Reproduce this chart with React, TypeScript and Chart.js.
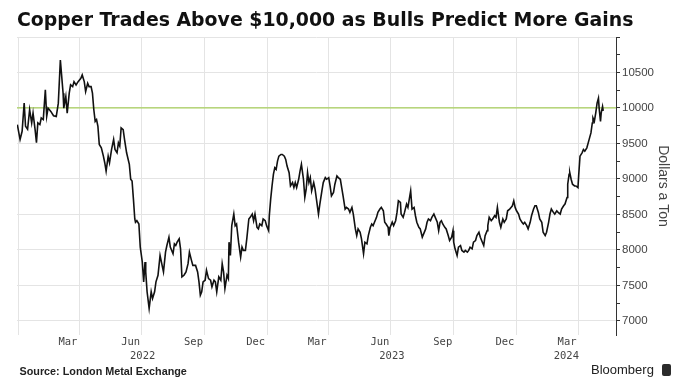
import React, { useEffect, useRef } from 'react';
import { Chart, registerables } from 'chart.js';

Chart.register(...registerables);

const TITLE = 'Copper Trades Above $10,000 as Bulls Predict More Gains';
const Y_TITLE = 'Dollars a Ton';
const SOURCE = 'Source: London Metal Exchange';
const BRAND = 'Bloomberg';

// [days since 2022-01-01, LME copper price in $/t]
const series2022: [number, number][] = [
  [-1, 9765], [3, 9555], [6, 9671], [9, 10068], [11, 9741], [14, 9700], [17, 9975], [20, 9789],
  [22, 9928], [25, 9695], [27, 9509], [29, 9789], [32, 9765], [34, 9858], [37, 9836], [40, 10255],
  [42, 9881], [44, 9998], [48, 9951], [52, 9891], [56, 9881], [59, 10068], [62, 10675], [64, 10441],
  [66, 10208], [67, 9998], [70, 10161], [72, 9928], [75, 10208], [77, 10325], [80, 10300], [82, 10371],
  [85, 10325], [88, 10371], [92, 10418], [94, 10465], [97, 10371], [99, 10231], [102, 10348], [104, 10301],
  [107, 10301], [109, 10208], [111, 9975], [113, 9811], [115, 9836], [117, 9741], [119, 9485], [122, 9438],
  [125, 9321], [127, 9228], [129, 9111], [132, 9321], [134, 9228], [137, 9415], [140, 9555], [142, 9415],
  [145, 9368], [147, 9508], [149, 9462], [151, 9719], [154, 9695], [156, 9555], [159, 9368], [163, 9205],
  [165, 8995], [167, 8970], [169, 8715], [171, 8435], [172, 8389], [174, 8412], [177, 8365], [179, 8039],
  [182, 7829], [184, 7548], [186, 7829], [187, 7689], [189, 7409], [192, 7175], [195, 7409], [197, 7315],
  [200, 7409], [202, 7549], [205, 7641], [208, 7921], [211, 7781], [213, 7689], [216, 7968], [218, 8061],
  [221, 8178], [223, 8039], [227, 7945], [229, 8085], [231, 8061], [233, 8108], [236, 8155], [238, 8015],
  [240, 7619], [243, 7642], [246, 7689], [249, 7805], [251, 7968], [254, 7852], [256, 7781], [260, 7781],
  [263, 7689], [265, 7549], [267, 7361], [269, 7409], [271, 7549], [274, 7572], [276, 7712], [279, 7595],
  [282, 7572], [284, 7479], [287, 7572], [289, 7549], [291, 7409], [294, 7619], [297, 7572], [299, 7805],
  [301, 7689], [303, 7455], [306, 7642], [308, 7595], [309, 8108], [311, 7921], [313, 8341], [316, 8505],
  [318, 8341], [320, 8365], [323, 8108], [326, 7898], [328, 8039], [330, 7992], [333, 7992], [335, 8155],
  [338, 8435], [340, 8458], [343, 8505], [345, 8411], [347, 8505], [350, 8318], [352, 8295], [354, 8365],
  [357, 8341], [359, 8435], [362, 8412], [364, 8341],
];

const series2023: [number, number][] = [
  [367, 8271], [368, 8482], [370, 8715], [372, 8901], [374, 9065], [376, 9158], [378, 9135], [380, 9251],
  [382, 9321], [385, 9344], [387, 9344], [390, 9321], [392, 9275], [394, 9181], [397, 9088], [399, 8901],
  [402, 8948], [404, 8878], [406, 8948], [408, 8878], [411, 8995], [413, 9111], [415, 9205], [418, 8995],
  [420, 8739], [422, 8855], [424, 9088], [426, 8948], [428, 9018], [430, 8831], [433, 8948], [435, 8855],
  [437, 8715], [440, 8505], [442, 8645], [445, 8831], [447, 8948], [450, 9018], [452, 8995], [455, 9018],
  [457, 8901], [459, 8761], [462, 8808], [464, 8925], [467, 9041], [469, 9018], [472, 8995], [474, 8878],
  [476, 8761], [479, 8575], [481, 8598], [484, 8575], [486, 8528], [489, 8598], [491, 8505], [494, 8295],
  [496, 8201], [498, 8295], [501, 8248], [503, 8155], [506, 7945], [508, 8108], [511, 8085], [513, 8201],
  [516, 8318], [518, 8365], [520, 8341], [522, 8389], [525, 8458], [527, 8528], [530, 8575], [532, 8598],
  [535, 8551], [537, 8389], [539, 8365], [542, 8318], [543, 8201], [545, 8318], [548, 8389], [550, 8341],
  [553, 8411], [555, 8528], [557, 8691], [560, 8668], [561, 8505], [564, 8458], [566, 8528], [569, 8645],
  [571, 8598], [573, 8715], [575, 8831], [577, 8575], [580, 8598], [582, 8481], [584, 8389], [587, 8318],
  [589, 8295], [592, 8178], [594, 8225], [597, 8295], [599, 8389], [601, 8435], [604, 8411], [606, 8458],
  [609, 8505], [611, 8458], [614, 8389], [616, 8271], [618, 8389], [620, 8411], [622, 8365], [625, 8318],
  [627, 8295], [630, 8201], [632, 8131], [635, 8178], [637, 8271], [638, 8108], [640, 8015], [643, 7921],
  [645, 8038], [648, 8061], [650, 7992], [653, 7968], [655, 7992], [658, 7968], [660, 7992], [662, 8038],
  [665, 8015], [667, 8108], [670, 8131], [672, 8201], [675, 8248], [677, 8178], [680, 8108], [682, 8061],
  [684, 8201], [687, 8271], [688, 8341], [690, 8458], [693, 8411], [695, 8435], [698, 8481], [700, 8458],
  [702, 8598], [705, 8388], [707, 8318], [710, 8435], [712, 8388], [715, 8435], [717, 8551], [720, 8575],
  [722, 8598], [724, 8621], [726, 8691], [728, 8598],
];

const series2024: [number, number][] = [
  [730, 8551], [733, 8505], [735, 8435], [738, 8388], [740, 8365], [742, 8388], [745, 8341], [747, 8295],
  [750, 8388], [752, 8481], [755, 8575], [757, 8621], [759, 8621], [762, 8528], [764, 8435], [767, 8388],
  [769, 8248], [772, 8201], [774, 8248], [777, 8388], [779, 8505], [781, 8575], [784, 8528], [786, 8505],
  [789, 8551], [791, 8528], [794, 8505], [796, 8575], [799, 8621], [801, 8645], [804, 8738], [805, 8925],
  [807, 9065], [808, 9088], [810, 8995], [812, 8925], [815, 8901], [817, 8901], [820, 8878], [821, 9041],
  [823, 9321], [826, 9368], [828, 9415], [830, 9391], [833, 9438], [835, 9508], [837, 9578], [839, 9648],
  [841, 9788], [842, 9858], [844, 9811], [846, 9928], [848, 10068], [850, 10138], [851, 9998], [853, 9811],
  [854, 9928], [856, 10021], [857, 9960],
];

const THRESHOLD = 10000;
const X_MIN = -1.5;
const X_MAX = 875.7;
const Y_MIN = 6800;
const Y_MAX = 11000;

// quarter boundaries (days since 2022-01-01): vertical gridlines
const gridDays = [0, 90, 181, 273, 365, 455, 546, 638, 730, 821];
// mid-month label positions
const monthDays = [73, 165, 257, 348, 438, 530, 622, 713, 804];
const monthLabels = ['Mar', 'Jun', 'Sep', 'Dec', 'Mar', 'Jun', 'Sep', 'Dec', 'Mar'];
const yearDays = [182.5, 547.5, 803];
const yearLabels = ['2022', '2023', '2024'];
// y ticks
const yLabelled = [7000, 7500, 8000, 8500, 9000, 9500, 10000, 10500];
const yMinor = [7250, 7750, 8250, 8750, 9250, 9750, 10250, 10750, 11000];

const GRID = '#e4e4e4';
const AXIS = '#333333';
const TEXT = '#444444';

export default function App() {
  const ref = useRef<HTMLCanvasElement | null>(null);

  useEffect(() => {
    if (!ref.current) return;
    const meas = document.createElement('canvas').getContext('2d')!;
    meas.font = 'bold 20px "DejaVu Sans"';
    const w = meas.measureText(TITLE).width;
    const titleSize = (20 * 617) / w;
    const titleLine = titleSize * 1.2;
    const padTop = 9.6;
    const padBottom = 37 - padTop - titleLine;

    const prices = [...series2022, ...series2023, ...series2024].map(([x, y]) => ({ x, y }));
    const xTicks = [...gridDays, ...monthDays, ...yearDays].sort((a, b) => a - b);
    const yTicks = [...yLabelled, ...yMinor].sort((a, b) => a - b);

    const chart = new Chart(ref.current, {
      type: 'line',
      data: {
        datasets: [
          {
            data: prices,
            borderColor: '#111111',
            borderWidth: 1.6,
            pointRadius: 0,
            tension: 0,
          },
          {
            data: [
              { x: X_MIN, y: THRESHOLD },
              { x: X_MAX, y: THRESHOLD },
            ],
            borderColor: '#a8cf5c',
            borderWidth: 1.2,
            pointRadius: 0,
          },
        ],
      },
      options: {
        animation: false,
        responsive: false,
        devicePixelRatio: 1,
        layout: { padding: { left: 17, right: 0, top: 0, bottom: 25.5 } },
        plugins: {
          legend: { display: false },
          tooltip: { enabled: false },
          title: {
            display: true,
            text: TITLE,
            align: 'start',
            color: '#111111',
            font: { family: '"DejaVu Sans", sans-serif', weight: 'bold', size: titleSize },
            padding: { top: padTop, bottom: padBottom },
          },
        },
        scales: {
          x: {
            type: 'linear',
            min: X_MIN,
            max: X_MAX,
            afterBuildTicks: (scale: any) => {
              scale.ticks = xTicks.map((v) => ({ value: v }));
            },
            afterFit: (scale: any) => {
              scale.height = 28.5;
            },
            border: { display: false },
            grid: {
              color: (ctx: any) => (ctx.tick && gridDays.includes(ctx.tick.value) ? GRID : 'rgba(0,0,0,0)'),
              drawTicks: false,
              tickLength: 0,
              lineWidth: 1,
            },
            ticks: {
              autoSkip: false,
              maxRotation: 0,
              minRotation: 0,
              padding: 0.5,
              color: TEXT,
              font: { family: '"DejaVu Sans Mono", monospace', size: 10.5, lineHeight: 14 / 10.5 },
              callback: (value: any) => {
                const v = Number(value);
                const mi = monthDays.indexOf(v);
                if (mi >= 0) return monthLabels[mi];
                const yi = yearDays.indexOf(v);
                if (yi >= 0) return ['', yearLabels[yi]];
                return '';
              },
            },
          },
          y: {
            type: 'linear',
            position: 'right',
            min: Y_MIN,
            max: Y_MAX,
            afterBuildTicks: (scale: any) => {
              scale.ticks = yTicks.map((v) => ({ value: v }));
            },
            afterFit: (scale: any) => {
              scale.width = 71;
            },
            border: { display: true, color: AXIS, width: 1 },
            grid: {
              color: (ctx: any) => (ctx.tick && ctx.tick.value % 500 === 0 ? GRID : 'rgba(0,0,0,0)'),
              tickColor: AXIS,
              drawTicks: true,
              tickLength: 4,
            },
            ticks: {
              padding: 2,
              color: TEXT,
              font: { family: '"Liberation Sans", sans-serif', size: 11.5 },
              callback: (value: any) => {
                const v = Number(value);
                return yLabelled.includes(v) ? String(v) : '';
              },
            },
            title: {
              display: true,
              text: Y_TITLE,
              color: TEXT,
              font: { family: '"Liberation Sans", sans-serif', size: 14 },
              padding: { top: 15.6, bottom: 0 },
            },
          },
        },
      },
    });
    return () => chart.destroy();
  }, []);

  return (
    <div style={{ position: 'fixed', left: 0, top: 0, width: 687, height: 389, background: '#ffffff', overflow: 'hidden' }}>
      <canvas ref={ref} width={687} height={389} style={{ display: 'block', width: 687, height: 389 }} />
      <div
        style={{
          position: 'absolute', left: 19.5, top: 364, height: 14, lineHeight: '14px',
          fontFamily: '"Liberation Sans", sans-serif', fontWeight: 'bold', fontSize: 10.8, color: '#222222', whiteSpace: 'nowrap',
        }}
      >
        {SOURCE}
      </div>
      <div
        style={{
          position: 'absolute', left: 591, top: 362, height: 16, lineHeight: '16px',
          fontFamily: '"Liberation Sans", sans-serif', fontSize: 13, color: '#222222', whiteSpace: 'nowrap',
        }}
      >
        {BRAND}
      </div>
      <div style={{ position: 'absolute', left: 662, top: 364, width: 9, height: 12, background: '#2b2b2b', borderRadius: 2 }} />
    </div>
  );
}
